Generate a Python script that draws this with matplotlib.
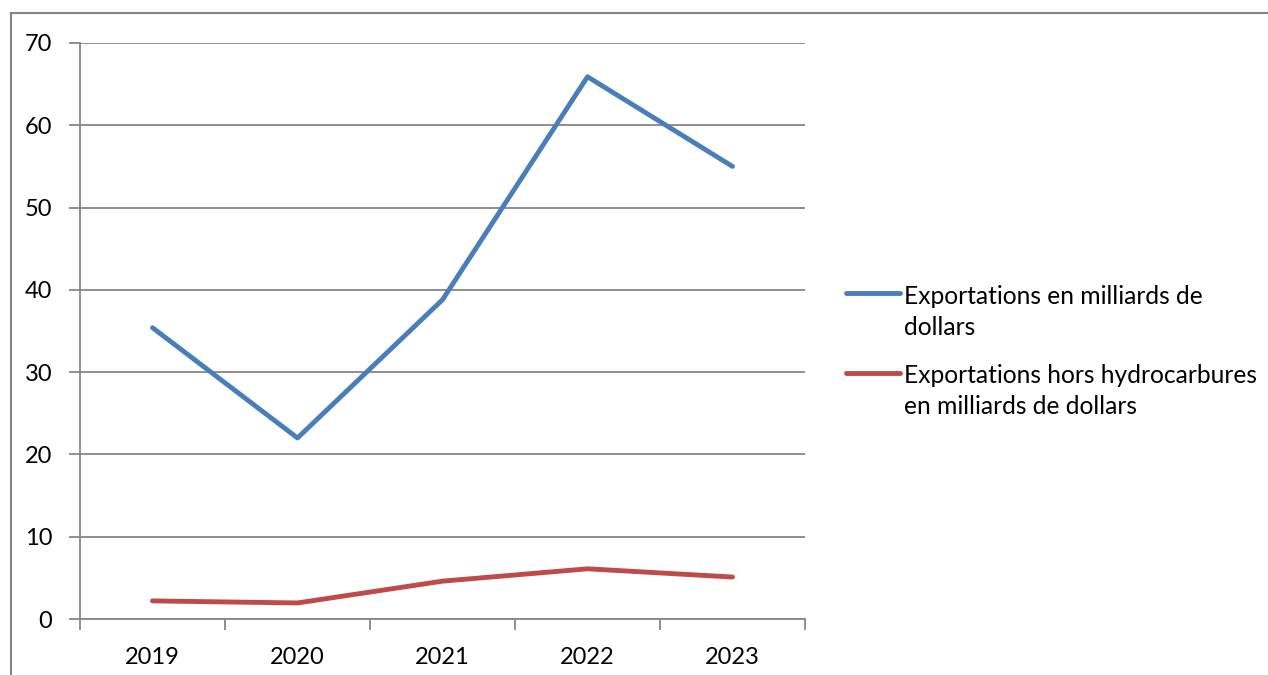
import matplotlib.pyplot as plt
from matplotlib.lines import Line2D

# data
years = ['2019', '2020', '2021', '2022', '2023']
exports_total = [35.4, 22.0, 38.8, 65.9, 55.0]
exports_non_hydro = [2.2, 1.95, 4.6, 6.1, 5.1]
labels = ['Exportations en milliards de\ndollars',
          'Exportations hors hydrocarbures\nen milliards de dollars']
colors = ['#4A7EBB', '#BE4B48']

plt.rcParams['font.family'] = ['Lato', 'DejaVu Sans']
plt.rcParams['font.size'] = 17

W, H = 1268, 675
fig = plt.figure(figsize=(W/100, H/100), dpi=100)
ax = fig.add_axes([80/W, 1-619/H, 725/W, 576/H])

x = range(len(years))
ax.plot(x, exports_total, color=colors[0], lw=3.5, solid_capstyle='round')
ax.plot(x, exports_non_hydro, color=colors[1], lw=3.5, solid_capstyle='round')

ax.set_xlim(-0.5, len(years) - 0.5)
ax.set_ylim(0, 70)
ax.set_yticks(range(0, 71, 10))
ax.set_xticks(list(x))
ax.set_xticklabels(years)
ax.set_xticks([i - 0.5 for i in range(len(years) + 1)], minor=True)
ax.tick_params(axis='x', which='major', length=0, pad=20)
ax.tick_params(axis='x', which='minor', length=8, color='#868686', width=1.3, direction='out')
ax.tick_params(axis='y', length=8, color='#868686', width=1.3, pad=12)

ax.grid(axis='y', color='#868686', lw=1.3)
ax.set_axisbelow(True)
for s in ['top', 'right']:
    ax.spines[s].set_visible(False)
for s in ['left', 'bottom']:
    ax.spines[s].set_color('#868686')
    ax.spines[s].set_linewidth(1.3)

# legend drawn by hand: handle lines up with the first text line, like Excel
handle_y = [293, 373]
text_y = [312, 391]
for lab, c, hy, ty in zip(labels, colors, handle_y, text_y):
    fig.add_artist(Line2D([846/W, 900/W], [1-hy/H, 1-hy/H], transform=fig.transFigure,
                          color=c, lw=3.5, solid_capstyle='round'))
    fig.text(904/W, 1-ty/H, lab, ha='left', va='center', fontsize=17.7, linespacing=1.4)

# outer chart frame (top and left edges visible)
fig.add_artist(Line2D([11/W, 1], [1-13/H, 1-13/H], transform=fig.transFigure, color='#868686', lw=1.5))
fig.add_artist(Line2D([11/W, 11/W], [0, 1-13/H], transform=fig.transFigure, color='#868686', lw=1.5))

fig.savefig('out.png', dpi=100)
